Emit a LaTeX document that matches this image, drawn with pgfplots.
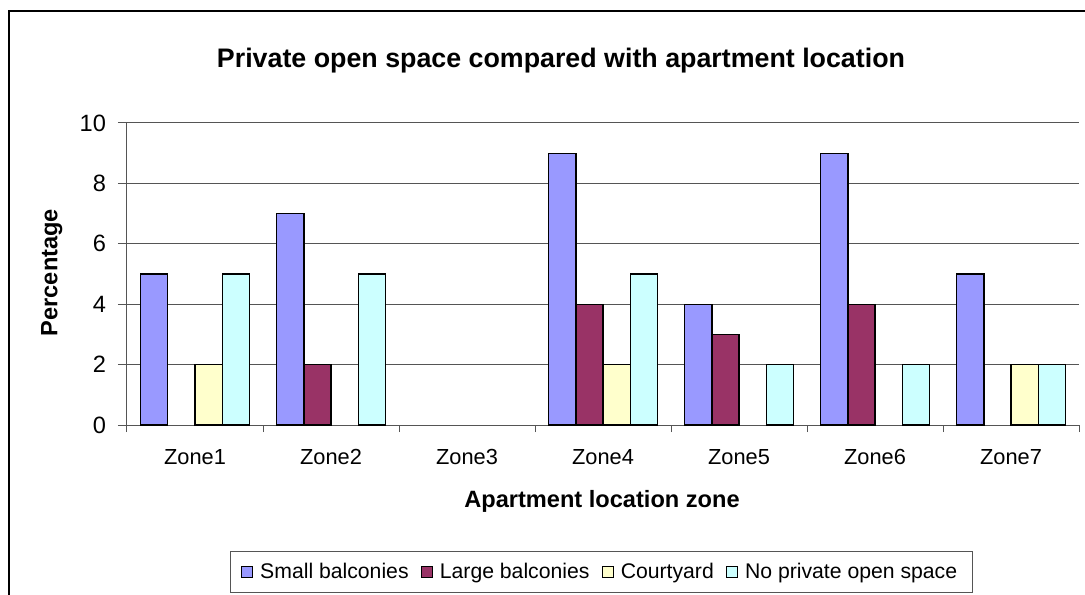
\documentclass[border=0pt]{standalone}
\usepackage{pgfplots}
\pgfplotsset{compat=1.18}
\usepackage{fontspec}
\setmainfont{Liberation Sans}

\definecolor{smallb}{HTML}{9999FF}
\definecolor{largeb}{HTML}{993366}
\definecolor{court}{HTML}{FFFFCC}
\definecolor{nopos}{HTML}{CCFFFF}
\definecolor{gridc}{HTML}{555555}

% zones are 0..6; zero values left out, as in the original
\pgfplotstableread{
x y
0 5
1 7
3 9
4 4
5 9
6 5
}\smallbal
\pgfplotstableread{
x y
1 2
3 4
4 3
5 4
}\largebal
\pgfplotstableread{
x y
0 2
3 2
6 2
}\courtyard
\pgfplotstableread{
x y
0 5
1 5
3 5
4 2
5 2
6 2
}\noprivate

\begin{document}
\begin{tikzpicture}
\useasboundingbox (-63.5pt,-84.5pt) rectangle (479pt,212.5pt);
\draw[line width=1.2pt] (-59pt,-90pt) -- (-59pt,207pt) -- (485pt,207pt);
\begin{axis}[
  at={(0,0)}, anchor=south west,
  scale only axis,
  width=476pt, height=151pt,
  ybar=0pt, bar width=13.6pt,
  xmin=-0.5, xmax=6.5,
  ymin=0, ymax=10,
  axis lines*=left,
  axis line style={gridc, line width=0.5pt},
  ytick={0,2,...,10},
  xtick={0,...,6},
  xticklabels={Zone1,Zone2,Zone3,Zone4,Zone5,Zone6,Zone7},
  minor xtick={-0.5,0.5,...,6.5},
  major x tick style={draw=none},
  minor x tick style={gridc, line width=0.5pt},
  y tick style={gridc, line width=0.5pt},
  tick align=outside,
  major tick length=4.5pt, minor tick length=3.5pt,
  ymajorgrids,
  major grid style={gridc, line width=0.5pt},
  /pgf/number format/assume math mode=true,
  yticklabel style={font=\fontsize{11.8}{13}\selectfont, xshift=-2.5pt},
  xticklabel style={font=\fontsize{10.9}{12}\selectfont, text height=7.9pt, text depth=0pt, yshift=-4pt},
  legend columns=4,
  legend style={at={(0.498,-0.487)}, anchor=center, draw=gridc,
    font=\fontsize{10.6}{13}\selectfont, inner xsep=5.5pt, inner ysep=3.5pt,
    /tikz/every odd column/.append style={column sep=1.5pt},
    /tikz/every even column/.append style={column sep=4pt}},
  legend image code/.code={\draw[#1, line width=0.6pt] (0.5pt,-2.6pt) rectangle (6pt,2.9pt);},
  every axis plot/.append style={draw=black, line width=0.7pt},
]
\addplot[fill=smallb] table {\smallbal};
\addlegendentry{Small balconies}
\addplot[fill=largeb] table {\largebal};
\addlegendentry{Large balconies}
\addplot[fill=court] table {\courtyard};
\addlegendentry{Courtyard}
\addplot[fill=nopos] table {\noprivate};
\addlegendentry{No private open space}
\end{axis}
\node[anchor=base, font=\fontsize{13.4}{15}\selectfont\bfseries] at (217pt,178.5pt)
  {Private open space compared with apartment location};
\node[rotate=90, font=\fontsize{11.8}{13}\selectfont\bfseries] at (-37.6pt,76.2pt) {Percentage};
\node[anchor=base, font=\fontsize{11.8}{13}\selectfont\bfseries] at (237.5pt,-41pt) {Apartment location zone};
\end{tikzpicture}
\end{document}
